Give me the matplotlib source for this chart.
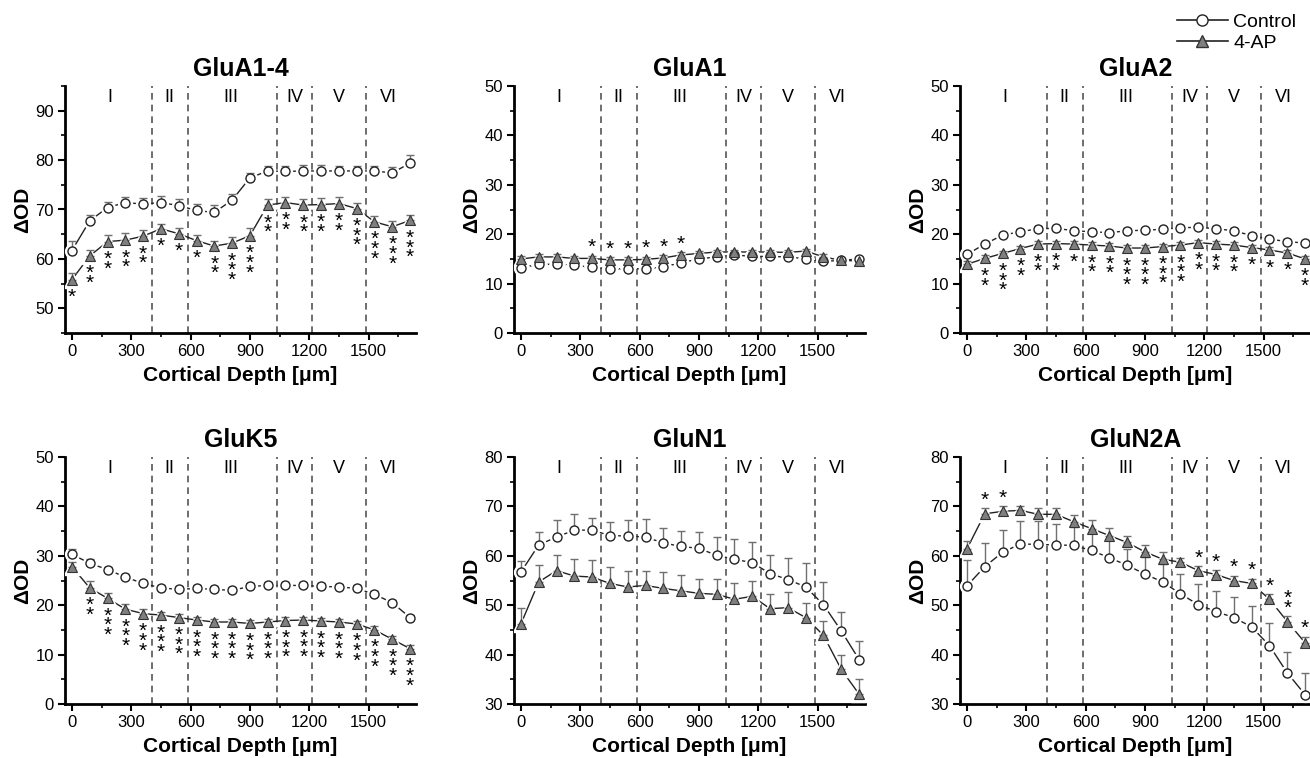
import matplotlib
matplotlib.use('Agg')
import matplotlib.pyplot as plt
from matplotlib.ticker import MultipleLocator
from matplotlib.lines import Line2D
import numpy as np

plt.rcParams['font.family'] = ['Liberation Sans', 'DejaVu Sans']

# Cortical depth sampling points (um)
depth = [0, 90, 180, 270, 360, 450, 540, 630, 720, 810,
         900, 990, 1080, 1170, 1260, 1350, 1440, 1530, 1620, 1710]
layer_bounds = [405, 585, 1035, 1215, 1485]
layer_names = ['I', 'II', 'III', 'IV', 'V', 'VI']
layer_pos = [190, 493, 805, 1125, 1352, 1600]

# GluA1-4
glua14_ctrl = [61.7, 67.7, 70.4, 71.4, 71.1, 71.4, 70.8, 69.8, 69.4, 71.9,
               76.4, 77.8, 77.7, 77.8, 77.8, 77.8, 77.8, 77.8, 77.4, 79.4]
glua14_ctrl_err = [1.9, 1.1, 1.1, 1.2, 1.3, 1.3, 1.3, 1.4, 1.5, 1.3,
                   1.0, 1.1, 1.1, 1.3, 1.2, 1.1, 1.0, 1.1, 1.2, 1.6]
glua14_ap = [55.8, 60.6, 63.5, 63.8, 64.6, 66.1, 65.1, 63.7, 62.6, 63.2,
             64.7, 70.9, 71.4, 70.9, 71.0, 71.2, 70.2, 67.5, 66.5, 67.8]
glua14_ap_err = [1.3, 1.2, 1.3, 1.4, 1.2, 0.9, 1.1, 1.2, 1.1, 1.2,
                 1.5, 1.2, 1.2, 1.3, 1.3, 1.3, 1.2, 1.1, 1.2, 1.1]
glua14_stars = [1, 2, 2, 2, 2, 1, 1, 1, 2, 3, 3, 2, 2, 2, 2, 2, 3, 3, 3, 3]

# GluA1
glua1_ctrl = [13.2, 13.9, 13.9, 13.7, 13.3, 13.0, 13.0, 13.0, 13.4, 14.2,
              15.0, 15.4, 15.8, 15.5, 15.5, 15.4, 15.0, 14.5, 14.7, 15.0]
glua1_ctrl_err = [0.4, 0.4, 0.4, 0.4, 0.4, 0.4, 0.4, 0.4, 0.4, 0.4,
                  0.4, 0.4, 0.4, 0.4, 0.4, 0.4, 0.4, 0.4, 0.4, 0.4]
glua1_ap = [15.0, 15.4, 15.4, 15.1, 15.1, 14.8, 14.8, 14.9, 15.2, 15.8,
            16.1, 16.4, 16.4, 16.4, 16.4, 16.3, 16.6, 15.4, 14.7, 14.6]
glua1_ap_err = [0.5, 0.5, 0.5, 0.5, 0.5, 0.5, 0.5, 0.5, 0.5, 0.5,
                0.5, 0.5, 0.5, 0.5, 0.5, 0.5, 0.5, 0.5, 0.5, 0.5]
glua1_stars = [0, 0, 0, 0, 1, 1, 1, 1, 1, 1, 0, 0, 0, 0, 0, 0, 0, 0, 0, 0]

# GluA2
glua2_ctrl = [15.9, 18.0, 19.8, 20.5, 21.1, 21.2, 20.7, 20.5, 20.3, 20.7,
              20.8, 21.0, 21.3, 21.4, 21.1, 20.7, 19.7, 19.0, 18.5, 18.2]
glua2_ctrl_err = [0.5, 0.5, 0.5, 0.5, 0.5, 0.5, 0.5, 0.5, 0.5, 0.5,
                  0.5, 0.5, 0.5, 0.5, 0.5, 0.5, 0.5, 0.5, 0.5, 0.5]
glua2_ap = [13.9, 15.1, 16.1, 17.1, 18.0, 18.1, 18.0, 17.8, 17.6, 17.2,
            17.2, 17.5, 17.8, 18.3, 18.0, 17.8, 17.3, 16.8, 16.2, 15.0]
glua2_ap_err = [0.6, 0.6, 0.6, 0.6, 0.6, 0.6, 0.6, 0.6, 0.6, 0.6,
                0.6, 0.6, 0.6, 0.6, 0.6, 0.6, 0.6, 0.6, 0.6, 0.6]
glua2_stars = [0, 2, 3, 2, 2, 2, 1, 2, 2, 3, 3, 3, 3, 2, 2, 2, 1, 1, 1, 2]

# GluK5
gluk5_ctrl = [30.3, 28.5, 27.2, 25.7, 24.4, 23.5, 23.2, 23.4, 23.2, 23.0,
              23.8, 24.0, 24.0, 24.0, 23.8, 23.7, 23.4, 22.2, 20.5, 17.5]
gluk5_ctrl_err = [1.1, 0.8, 0.6, 0.6, 0.6, 0.6, 0.6, 0.6, 0.6, 0.6,
                  0.6, 0.6, 0.6, 0.6, 0.6, 0.6, 0.6, 0.6, 0.6, 0.6]
gluk5_ap = [27.8, 23.5, 21.4, 19.2, 18.3, 18.0, 17.5, 17.0, 16.6, 16.6,
            16.3, 16.6, 16.9, 17.0, 16.8, 16.6, 16.2, 15.0, 13.1, 11.2]
gluk5_ap_err = [0.9, 1.5, 1.0, 1.0, 0.9, 0.7, 0.7, 0.7, 0.7, 0.7,
                0.7, 0.7, 0.7, 0.7, 0.7, 0.7, 0.7, 0.7, 0.7, 0.7]
gluk5_stars = [0, 2, 3, 3, 3, 3, 3, 3, 3, 3, 3, 3, 3, 3, 3, 3, 3, 3, 3, 3]

# GluN1
glun1_ctrl = [56.7, 62.2, 63.8, 65.2, 65.2, 64.1, 64.0, 63.8, 62.6, 61.9,
              61.5, 60.1, 59.3, 58.6, 56.4, 55.2, 53.7, 50.1, 44.8, 39.0]
glun1_ctrl_err = [2.3, 2.6, 3.4, 3.2, 2.5, 2.8, 3.3, 3.6, 3.0, 3.1,
                  3.3, 3.7, 4.0, 4.2, 3.8, 4.3, 4.9, 4.6, 3.9, 3.8]
glun1_ap = [46.2, 54.7, 57.0, 55.9, 55.7, 54.4, 53.7, 54.0, 53.4, 52.9,
            52.4, 52.2, 51.2, 51.8, 49.3, 49.5, 47.5, 43.9, 37.0, 32.0]
glun1_ap_err = [3.3, 3.4, 3.2, 3.4, 3.4, 3.4, 3.2, 2.9, 3.3, 3.2,
                2.9, 3.1, 3.3, 3.1, 2.9, 3.1, 2.9, 2.9, 3.0, 3.1]
glun1_stars = [0, 0, 0, 0, 0, 0, 0, 0, 0, 0, 0, 0, 0, 0, 0, 0, 0, 0, 0, 0]

# GluN2A
glun2a_ctrl = [53.9, 57.8, 60.7, 62.4, 62.3, 62.2, 62.1, 61.1, 59.6, 58.1,
               56.3, 54.7, 52.3, 50.1, 48.7, 47.5, 45.6, 41.8, 36.3, 31.9]
glun2a_ctrl_err = [5.3, 4.7, 4.5, 4.7, 4.8, 4.3, 3.7, 3.5, 3.6, 3.2,
                   3.5, 3.6, 4.1, 4.2, 4.2, 4.2, 4.3, 4.5, 4.3, 4.4]
glun2a_ap = [61.4, 68.5, 69.0, 69.2, 68.4, 68.4, 66.9, 65.5, 64.1, 62.7,
             60.8, 59.3, 58.7, 57.0, 56.2, 55.0, 54.4, 51.2, 46.7, 42.4]
glun2a_ap_err = [1.5, 1.1, 1.0, 0.9, 1.3, 1.3, 1.4, 1.8, 1.6, 1.4,
                 1.4, 1.4, 0.9, 0.9, 0.9, 1.0, 1.0, 1.0, 1.1, 1.2]
glun2a_stars = [0, 1, 1, 0, 0, 0, 0, 0, 0, 0, 0, 0, 0, 1, 1, 1, 1, 1, 2, 1]

panels = [
    ('GluA1-4', glua14_ctrl, glua14_ctrl_err, glua14_ap, glua14_ap_err, glua14_stars, 'below', (45, 95), 50),
    ('GluA1', glua1_ctrl, glua1_ctrl_err, glua1_ap, glua1_ap_err, glua1_stars, 'above', (0, 50), 0),
    ('GluA2', glua2_ctrl, glua2_ctrl_err, glua2_ap, glua2_ap_err, glua2_stars, 'below', (0, 50), 0),
    ('GluK5', gluk5_ctrl, gluk5_ctrl_err, gluk5_ap, gluk5_ap_err, gluk5_stars, 'below', (0, 50), 0),
    ('GluN1', glun1_ctrl, glun1_ctrl_err, glun1_ap, glun1_ap_err, glun1_stars, 'below', (30, 80), 30),
    ('GluN2A', glun2a_ctrl, glun2a_ctrl_err, glun2a_ap, glun2a_ap_err, glun2a_stars, 'above', (30, 80), 30),
]

W, H = 1310, 758
fig = plt.figure(figsize=(W / 100, H / 100), dpi=100)

lefts = [65, 514, 960]
bottoms = [333, 704]
ax_w, ax_h = 351, 247

for i, (name, ctrl, ctrl_err, ap, ap_err, stars, side, ylim, ystart) in enumerate(panels):
    row, col = divmod(i, 3)
    ax = fig.add_axes([lefts[col] / W, (H - bottoms[row]) / H, ax_w / W, ax_h / H])

    for b in layer_bounds:
        ax.axvline(b, color='#555555', lw=1.2, ls=(0, (4, 3)), zorder=1)
    for name_l, pos in zip(layer_names, layer_pos):
        ax.text(pos, 0.955, name_l, transform=ax.get_xaxis_transform(),
                ha='center', va='center', fontsize=13)

    x = np.array(depth)
    ctrl = np.array(ctrl)
    ap = np.array(ap)
    zeros = np.zeros(len(x))
    # lines with a small gap around each symbol
    ax.plot(x, ctrl, color='#222222', lw=1, zorder=3)
    ax.plot(x, ap, color='#222222', lw=1, zorder=3)
    ax.plot(x, ctrl, ls='none', marker='o', ms=10, mfc='white', mec='white', zorder=3.5)
    ax.plot(x, ap, ls='none', marker='^', ms=11, mfc='white', mec='white', zorder=3.5)
    ax.errorbar(x, ctrl, yerr=[zeros, ctrl_err], fmt='none', ecolor='#707070',
                elinewidth=1, capsize=3, capthick=1, zorder=3.7)
    ax.errorbar(x, ap, yerr=[zeros, ap_err], fmt='none', ecolor='#707070',
                elinewidth=1, capsize=3, capthick=1, zorder=3.7)
    ax.plot(x, ctrl, ls='none', marker='o', ms=6.5,
            mfc='white', mec='#222222', mew=1, zorder=4)
    ax.plot(x, ap, ls='none', marker='^', ms=7.5,
            mfc='#7f7f7f', mec='#333333', mew=0.8, zorder=5)

    for xi, yi, ei, n in zip(x, ap, ap_err, stars):
        if n == 0:
            continue
        s = '\n'.join(['*'] * n)
        if side == 'below':
            ax.annotate(s, (xi, yi), xytext=(0, -6), textcoords='offset points',
                        ha='center', va='top', fontsize=15, linespacing=0.38,
                        zorder=6)
        else:
            ax.annotate(s, (xi, yi + ei), xytext=(0, -1), textcoords='offset points',
                        ha='center', va='bottom', fontsize=15, linespacing=0.38,
                        zorder=6)

    ax.set_xlim(-35, 1740)
    ax.set_ylim(*ylim)
    ax.set_xticks([0, 300, 600, 900, 1200, 1500])
    ax.xaxis.set_minor_locator(MultipleLocator(150))
    ax.yaxis.set_minor_locator(MultipleLocator(5))
    ax.set_yticks(list(range(ystart, ylim[1] + 1, 10)))
    for sp in ['top', 'right']:
        ax.spines[sp].set_visible(False)
    for sp in ['left', 'bottom']:
        ax.spines[sp].set_linewidth(2)
    ax.tick_params(which='major', direction='out', length=5, width=1.5,
                   labelsize=12, pad=3)
    ax.tick_params(which='minor', direction='out', length=3, width=1.2)
    ax.set_title(name, fontsize=18, fontweight='bold', pad=7)
    ax.set_xlabel('Cortical Depth [\u03bcm]', fontsize=15, fontweight='bold', labelpad=5)
    ax.set_ylabel('\u0394OD', fontsize=15, fontweight='bold', labelpad=2)

handles = [
    Line2D([], [], color='#222222', lw=1.2, marker='o', ms=8, mfc='white', mec='#222222'),
    Line2D([], [], color='#222222', lw=1.2, marker='^', ms=9, mfc='#7f7f7f', mec='#333333'),
]
fig.legend(handles, ['Control', '4-AP'], loc='upper right', bbox_to_anchor=(1.0, 1.0),
           frameon=False, fontsize=14, handlelength=2.6, handletextpad=0.3,
           labelspacing=0.15, numpoints=1, borderaxespad=0.3)

fig.savefig('out.png', dpi=100)
